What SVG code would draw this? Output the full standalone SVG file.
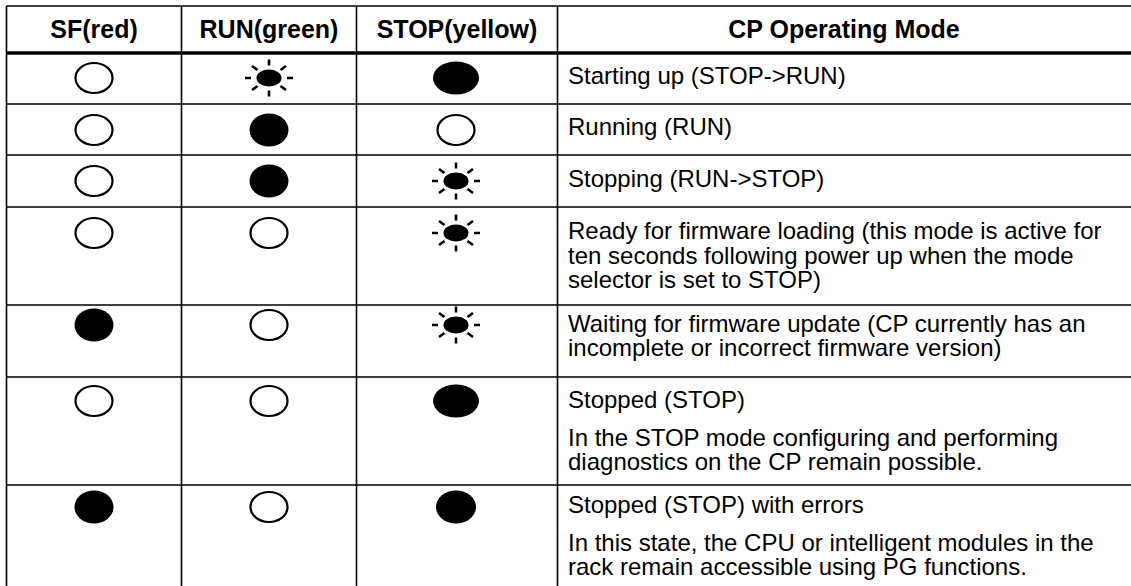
<svg xmlns="http://www.w3.org/2000/svg" width="1131" height="586" viewBox="0 0 1131 586">
<style>
.bg{fill:#fff}
.ln{stroke:#000;stroke-width:1.6;fill:none}
.thick{stroke:#000;stroke-width:3.5;fill:none}
.hd{font-family:"Liberation Sans",Arial,sans-serif;font-weight:bold;font-size:25px;fill:#000;text-anchor:middle}
.tx{font-family:"Liberation Sans",Arial,sans-serif;font-size:24px;fill:#000}
.off{fill:#fff;stroke:#000;stroke-width:2.2}
.on{fill:#000}
.ray{stroke:#000;stroke-width:2.6;stroke-linecap:butt}
</style>
<defs>
<g id="sun">
<ellipse cx="0" cy="0" rx="12.5" ry="8.5" fill="#000"/>
<path class="ray" d="M-24 0H-18M18 0H24M0 -18.5V-12.5M0 12.5V18.5M-17 -12L-11.5 -8M17 -12L11.5 -8M-17 12L-11.5 8M17 12L11.5 8"/>
</g>
</defs>
<rect class="bg" x="0" y="0" width="1131" height="586"/>
<g id="grid">
<path class="ln" d="M6.5 6H1131M6.5 104H1131M6.5 155H1131M6.5 207H1131M6.5 305H1131M6.5 377H1131M6.5 485H1131"/>
<path class="thick" d="M6.5 53H1131"/>
<path class="ln" d="M6.5 6V586M181.5 6V586M356.5 6V586M557.5 6V586"/>
</g>
<g id="connectors"></g>
<g id="header">
<text class="hd" x="94" y="38">SF(red)</text>
<text class="hd" x="269" y="38">RUN(green)</text>
<text class="hd" x="457" y="38">STOP(yellow)</text>
<text class="hd" x="844" y="38">CP Operating Mode</text>
</g>
<g id="row1">
<ellipse class="off" cx="94" cy="78" rx="18.5" ry="15"/>
<use href="#sun" x="269" y="78"/>
<ellipse class="on" cx="456" cy="78" rx="23" ry="16.5"/>
<text class="tx" x="568" y="84">Starting up (STOP-&gt;RUN)</text>
</g>
<g id="row2">
<ellipse class="off" cx="94" cy="130" rx="18.5" ry="15"/>
<ellipse class="on" cx="269" cy="130" rx="19.5" ry="16.5"/>
<ellipse class="off" cx="456" cy="130" rx="18.5" ry="15"/>
<text class="tx" x="568" y="135">Running (RUN)</text>
</g>
<g id="row3">
<ellipse class="off" cx="94" cy="181" rx="18.5" ry="15"/>
<ellipse class="on" cx="269" cy="181" rx="19.5" ry="16.5"/>
<use href="#sun" x="456" y="181"/>
<text class="tx" x="568" y="187">Stopping (RUN-&gt;STOP)</text>
</g>
<g id="row4">
<ellipse class="off" cx="94" cy="233" rx="18.5" ry="15"/>
<ellipse class="off" cx="269" cy="233" rx="18.5" ry="15"/>
<use href="#sun" x="456" y="233"/>
<text class="tx" x="568" y="239">Ready for firmware loading (this mode is active for</text>
<text class="tx" x="568" y="264">ten seconds following power up when the mode</text>
<text class="tx" x="568" y="288">selector is set to STOP)</text>
</g>
<g id="row5">
<ellipse class="on" cx="94" cy="325" rx="19.5" ry="16.5"/>
<ellipse class="off" cx="269" cy="325" rx="18.5" ry="15"/>
<use href="#sun" x="456" y="325"/>
<text class="tx" x="568" y="332">Waiting for firmware update (CP currently has an</text>
<text class="tx" x="568" y="356">incomplete or incorrect firmware version)</text>
</g>
<g id="row6">
<ellipse class="off" cx="94" cy="401" rx="18.5" ry="15"/>
<ellipse class="off" cx="269" cy="401" rx="18.5" ry="15"/>
<ellipse class="on" cx="456" cy="401" rx="23" ry="16.5"/>
<text class="tx" x="568" y="408">Stopped (STOP)</text>
<text class="tx" x="568" y="446">In the STOP mode configuring and performing</text>
<text class="tx" x="568" y="470">diagnostics on the CP remain possible.</text>
</g>
<g id="row7">
<ellipse class="on" cx="94" cy="507" rx="19.5" ry="16.5"/>
<ellipse class="off" cx="269" cy="507" rx="18.5" ry="15"/>
<ellipse class="on" cx="456" cy="507" rx="20" ry="16.5"/>
<text class="tx" x="568" y="513">Stopped (STOP) with errors</text>
<text class="tx" x="568" y="551">In this state, the CPU or intelligent modules in the</text>
<text class="tx" x="568" y="575">rack remain accessible using PG functions.</text>
</g>
</svg>
